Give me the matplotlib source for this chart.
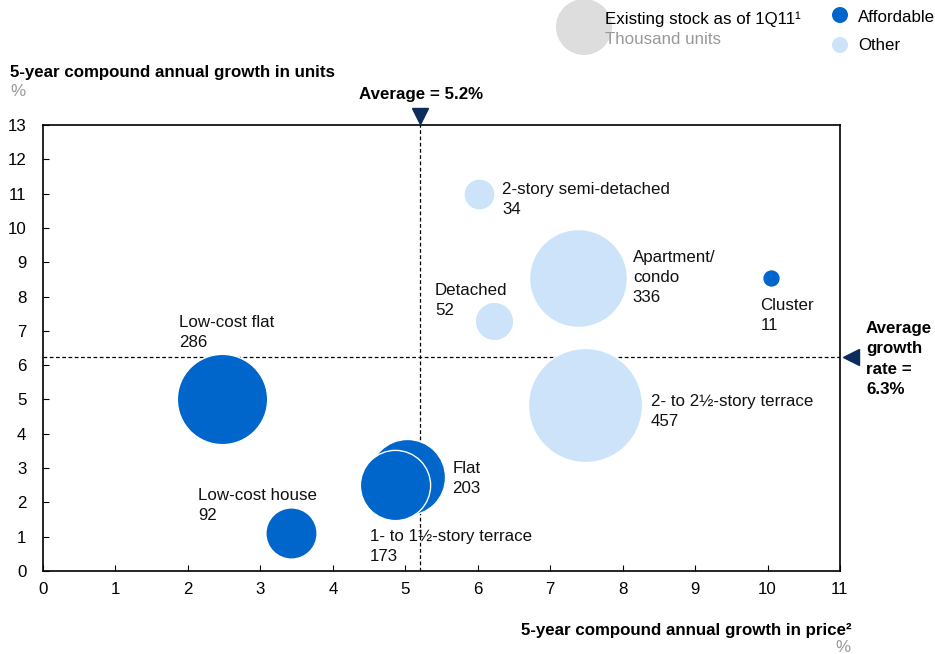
import matplotlib
matplotlib.use("Agg")
import matplotlib.pyplot as plt
import numpy as np

plt.rcParams['font.family'] = ['Liberation Sans', 'DejaVu Sans']

# ---- data ----
names = ["Flat", "1- to 1½-story terrace", "Low-cost flat", "Low-cost house",
         "2- to 2½-story terrace", "Apartment/\ncondo", "Detached",
         "2-story semi-detached", "Cluster"]
price_growth = [5.02, 4.86, 2.47, 3.42, 7.48, 7.38, 6.22, 6.02, 10.05]
unit_growth = [2.75, 2.5, 5.0, 1.1, 4.83, 8.54, 7.28, 10.98, 8.54]
stock = [203, 173, 286, 92, 457, 336, 52, 34, 11]
affordable = [True, True, True, True, False, False, False, False, True]
avg_price = 5.2
avg_units = 6.25
avg_units_label = "6.3%"
xticks = list(range(0, 12))
yticks = list(range(0, 14))

# label anchor (left, top) in data coords
label_pos = [(5.65, 3.20), (4.51, 1.22), (1.88, 7.46), (2.14, 2.42),
             (8.39, 5.16), (8.14, 9.36), (5.41, 8.39), (6.34, 11.34), (9.90, 7.96)]

C_AFF = "#0066CC"
C_OTH = "#CCE3F9"
NAVY = "#0B2D5B"
FS = 12.2

W, H = 935, 654
fig = plt.figure(figsize=(W / 100, H / 100), dpi=100)
ax = fig.add_axes([43 / W, 1 - 571 / H, (840 - 43) / W, (571 - 125) / H])
ax.set_xlim(0, 11)
ax.set_ylim(0, 13)

def fx(px):
    return px / W

def fy(py):
    return 1 - py / H

# bubble size: radius px = 2.67*sqrt(v); s in pt^2
k = 2.67
sizes = [(2 * k * np.sqrt(v) * 0.72) ** 2 for v in stock]
colors = [C_AFF if a else C_OTH for a in affordable]

ax.axvline(avg_price, color="black", lw=0.9, ls=(0, (3, 2)), zorder=1)
ax.axhline(avg_units, color="black", lw=0.9, ls=(0, (3, 2)), zorder=1)

for xv, yv, s, c in zip(price_growth, unit_growth, sizes, colors):
    ax.scatter([xv], [yv], s=s, color=c, edgecolors="white", linewidths=1.0, zorder=3)

for n, v, (lx, ly) in zip(names, stock, label_pos):
    ax.text(lx, ly, f"{n}\n{v}", ha="left", va="top", fontsize=FS,
            linespacing=1.42, zorder=4, color="#111111")

ax.set_xticks(xticks)
ax.set_yticks(yticks)
ax.tick_params(direction="in", length=4, width=0.8, labelsize=FS, pad=8,
               colors="black")
ax.tick_params(axis="y", pad=12)
for sp in ax.spines.values():
    sp.set_linewidth(1.2)

# average markers
fig.text(fx(421), fy(95), f"Average = {avg_price}%", ha="center", va="center",
         fontsize=FS, fontweight="bold")
ax.plot([avg_price], [13.27], marker="v", markersize=12, color=NAVY, clip_on=False, zorder=5)
ax.plot([11.15], [avg_units], marker="<", markersize=12, color=NAVY, clip_on=False, zorder=5)
fig.text(fx(866), fy(321), f"Average\ngrowth\nrate =\n{avg_units_label}", ha="left",
         va="top", fontsize=FS, fontweight="bold", linespacing=1.45)

# axis titles
fig.text(fx(10), fy(73), "5-year compound annual growth in units", ha="left",
         va="center", fontsize=FS, fontweight="bold")
fig.text(fx(10), fy(92), "%", ha="left", va="center", fontsize=FS, color="#999999")
fig.text(fx(852), fy(630), "5-year compound annual growth in price²", ha="right",
         va="center", fontsize=FS, fontweight="bold")
fig.text(fx(850), fy(647), "%", ha="right", va="center", fontsize=FS, color="#999999")

# legend
lax = fig.add_axes([0, 0, 1, 1], facecolor="none")
lax.set_xlim(0, W)
lax.set_ylim(H, 0)
lax.axis("off")
lax.add_patch(plt.Circle((584, 27), 28, color="#DDDDDD", lw=0))
lax.add_patch(plt.Circle((840, 15), 8, color=C_AFF, lw=0))
lax.add_patch(plt.Circle((840, 45), 8, color=C_OTH, lw=0))
lax.text(605, 19, "Existing stock as of 1Q11¹", ha="left", va="center", fontsize=FS)
lax.text(605, 39, "Thousand units", ha="left", va="center", fontsize=FS, color="#999999")
lax.text(858, 17, "Affordable", ha="left", va="center", fontsize=FS)
lax.text(858, 46, "Other", ha="left", va="center", fontsize=FS)

fig.savefig("out.png", dpi=100)
